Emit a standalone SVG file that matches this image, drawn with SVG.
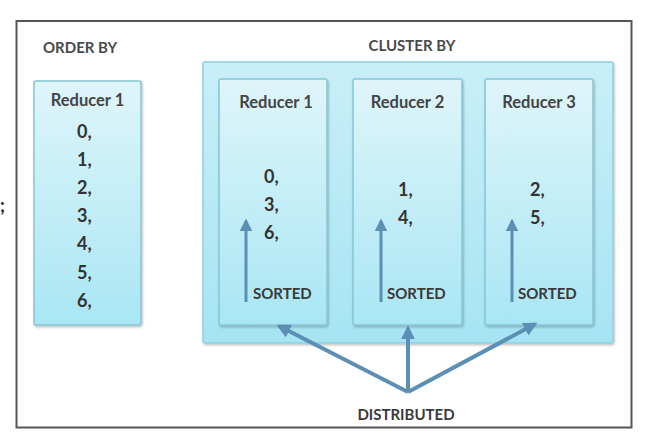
<svg xmlns="http://www.w3.org/2000/svg" width="650" height="446" viewBox="0 0 650 446">
<defs>
<linearGradient id="gBox" x1="0" y1="0" x2="0" y2="1">
<stop offset="0" stop-color="#dff5fa"/>
<stop offset="1" stop-color="#a9e6f4"/>
</linearGradient>
<linearGradient id="gCont" x1="0" y1="0" x2="0" y2="1">
<stop offset="0" stop-color="#c9eff8"/>
<stop offset="1" stop-color="#a6e4f3"/>
</linearGradient>
<marker id="ah" viewBox="0 0 10 10" refX="8" refY="5" markerWidth="4.3" markerHeight="4.3" orient="auto" markerUnits="strokeWidth">
<path d="M0,0 L10,5 L0,10 z" fill="#5b8fb4"/>
</marker>
<marker id="ah2" viewBox="0 0 10 10" refX="8" refY="5" markerWidth="3.5" markerHeight="3.5" orient="auto" markerUnits="strokeWidth">
<path d="M0,0 L10,5 L0,10 z" fill="#5b8fb4"/>
</marker>
<filter id="sh" x="-10%" y="-10%" width="130%" height="130%">
<feDropShadow dx="1" dy="1.5" stdDeviation="1.2" flood-color="#000" flood-opacity="0.25"/>
</filter>
</defs>
<style>
text{font-family:Lato,"Open Sans","Liberation Sans",sans-serif;fill:#3b3b3b}
.hdr{font-size:15px;font-weight:bold;fill:#4a4a4a}
.ttl{font-size:16.5px;font-weight:bold;fill:#444}
.num{font-size:18px;font-weight:bold;fill:#333}
.lbl{font-size:15px;font-weight:bold;fill:#3a3a3a}
.box{fill:url(#gBox);stroke:#86c6d6;stroke-width:1.5}
.cont{fill:url(#gCont);stroke:#8fd0e0;stroke-width:1.5}
.conn{stroke:#5b8fb4;fill:none}
</style>
<rect x="0" y="0" width="650" height="446" fill="#ffffff"/>
<rect x="16.5" y="21" width="615" height="406.5" fill="#ffffff" stroke="#555" stroke-width="2"/>
<text x="0" y="212" class="num" fill="#222" style="fill:#222">;</text>

<text x="43" y="53" class="hdr">ORDER BY</text>
<text x="412" y="51" class="hdr" text-anchor="middle">CLUSTER BY</text>

<g id="order-reducer1">
<rect x="34" y="81" width="107" height="244" rx="2" class="box" filter="url(#sh)"/>
<text x="87.5" y="106" class="ttl" text-anchor="middle">Reducer 1</text>
<text x="77" y="138" class="num">0,</text>
<text x="77" y="166" class="num">1,</text>
<text x="77" y="194" class="num">2,</text>
<text x="77" y="222" class="num">3,</text>
<text x="77" y="250" class="num">4,</text>
<text x="77" y="279" class="num">5,</text>
<text x="77" y="307" class="num">6,</text>
</g>

<g id="cluster">
<rect x="203" y="62" width="410" height="281" rx="2" class="cont" filter="url(#sh)"/>
</g>

<g id="cluster-reducer1">
<rect x="219" y="79" width="108" height="246" rx="2" class="box" filter="url(#sh)"/>
<text x="276" y="108" class="ttl" text-anchor="middle">Reducer 1</text>
<text x="264" y="183" class="num">0,</text>
<text x="264" y="211" class="num">3,</text>
<text x="264" y="239" class="num">6,</text>
<text x="253" y="299" class="lbl">SORTED</text>
</g>

<g id="cluster-reducer2">
<rect x="353" y="79" width="109" height="246" rx="2" class="box" filter="url(#sh)"/>
<text x="407.5" y="108" class="ttl" text-anchor="middle">Reducer 2</text>
<text x="398" y="196" class="num">1,</text>
<text x="398" y="224" class="num">4,</text>
<text x="387" y="299" class="lbl">SORTED</text>
</g>

<g id="cluster-reducer3">
<rect x="485" y="79" width="108" height="246" rx="2" class="box" filter="url(#sh)"/>
<text x="539" y="108" class="ttl" text-anchor="middle">Reducer 3</text>
<text x="530" y="196" class="num">2,</text>
<text x="530" y="224" class="num">5,</text>
<text x="518" y="299" class="lbl">SORTED</text>
</g>

<text x="406" y="420" class="lbl" text-anchor="middle">DISTRIBUTED</text>

<g id="connectors">
<line x1="246" y1="302" x2="246" y2="221" class="conn" stroke-width="3" marker-end="url(#ah)"/>
<line x1="381" y1="302" x2="381" y2="221" class="conn" stroke-width="3" marker-end="url(#ah)"/>
<line x1="512" y1="302" x2="512" y2="221" class="conn" stroke-width="3" marker-end="url(#ah)"/>
<line x1="408" y1="392" x2="279" y2="326" class="conn" stroke-width="4" marker-end="url(#ah2)"/>
<line x1="408" y1="392" x2="408" y2="328" class="conn" stroke-width="4" marker-end="url(#ah2)"/>
<line x1="408" y1="392" x2="535" y2="324" class="conn" stroke-width="4" marker-end="url(#ah2)"/>
</g>
</svg>
